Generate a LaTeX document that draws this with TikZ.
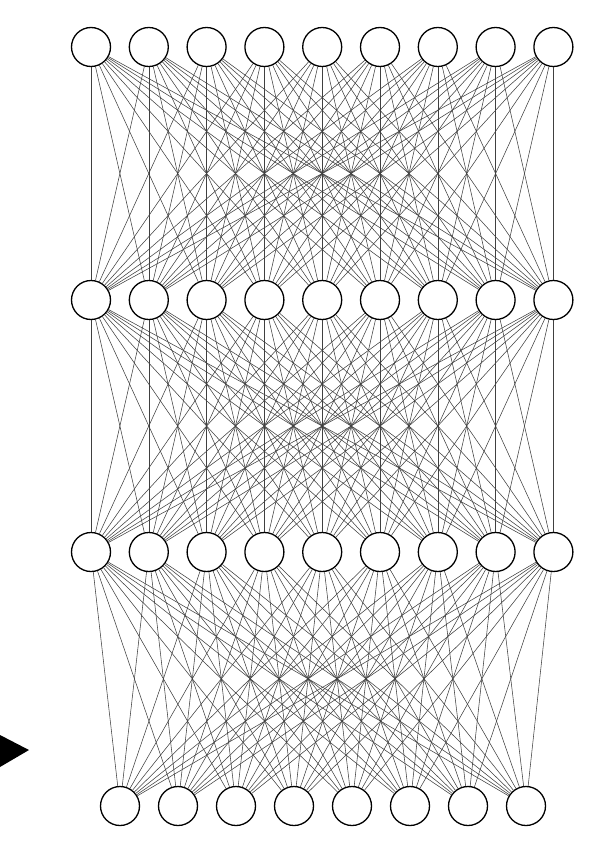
\documentclass[tikz,border=0pt]{standalone}
\usepackage{tikz}

\newcommand*{\dx}{57.8}
\newcommand*{\rowA}{47}
\newcommand*{\rowB}{300}
\newcommand*{\rowC}{552}
\newcommand*{\rowD}{806}

\begin{document}
\begin{tikzpicture}
[
	x=1pt,y=-1pt,
	neuron/.style={circle,draw,fill=white,line width=1.3pt,inner sep=0pt,minimum size=39pt},
	synapse/.style={black!75,line width=0.55pt}
]
	\useasboundingbox (0,0) rectangle (589,851);

	% layers
	\foreach \i in {1,...,9} {
		\node[neuron] (a\i) at ({91+\dx*(\i-1)},\rowA) {};
		\node[neuron] (b\i) at ({91+\dx*(\i-1)},\rowB) {};
		\node[neuron] (c\i) at ({91+\dx*(\i-1)},\rowC) {};
	}
	\foreach \i in {1,...,8} {
		\node[neuron] (d\i) at ({120+58*(\i-1)},\rowD) {};
	}

	% connections
	\foreach \i in {1,...,9} {
		\foreach \j in {1,...,9} {
			\draw[synapse] (a\i) -- (b\j);
			\draw[synapse] (b\i) -- (c\j);
		}
		\foreach \j in {1,...,8} {
			\draw[synapse] (c\i) -- (d\j);
		}
	}

	% input marker
	\fill (0,735) -- (29,750) -- (0,767) -- cycle;

\end{tikzpicture}
\end{document}
